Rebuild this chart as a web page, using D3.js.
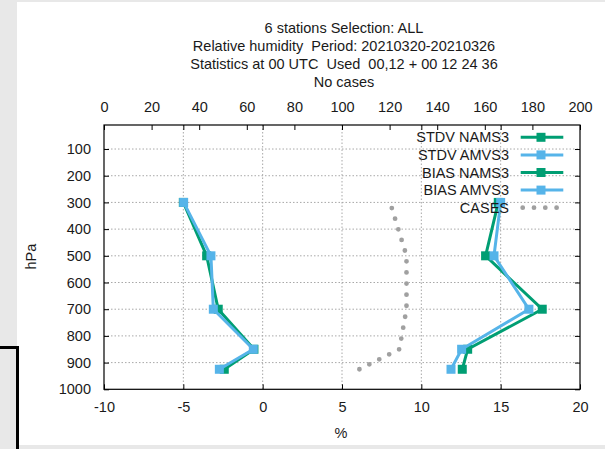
<!DOCTYPE html>
<html>
<head>
<meta charset="utf-8">
<script src="https://cdn.jsdelivr.net/npm/d3@7"></script>
<style>
  html, body { margin: 0; padding: 0; background: #e8e8e8; }
  svg { display: block; }
  text { font-family: "Liberation Sans", Arial, sans-serif; fill: #1a1a1a; white-space: pre; }
</style>
</head>
<body>
<svg id="chart" width="605" height="449"></svg>
<script>
// Pressure levels (hPa) of the profiles
const levels = [300, 500, 700, 850, 925];

// Standard deviation (%) per level
const stdvNams3 = [14.85, 14.05, 17.62, 12.92, 12.58];
const stdvAmvs3 = [15.0, 14.58, 16.78, 12.54, 11.87];

// Bias (%) per level
const biasNams3 = [-5.0, -3.53, -2.8, -0.55, -2.42];
const biasAmvs3 = [-4.98, -3.26, -3.11, -0.59, -2.73];

// Number of cases per level (upper axis)
const cases = [120.2, 127.1, 127.1, 124.1, 107.3];

// Axis ticks
const pressureTicks = [100, 200, 300, 400, 500, 600, 700, 800, 900, 1000];
const percentTicks = [-10, -5, 0, 5, 10, 15, 20];
const casesTicks = [0, 20, 40, 60, 80, 100, 120, 140, 160, 180, 200];

const titleLines = [
  "6 stations Selection: ALL",
  "Relative humidity  Period: 20210320-20210326",
  "Statistics at 00 UTC  Used  00,12 + 00 12 24 36",
  "No cases"
];

const GREEN = "#009e73";
const BLUE = "#56b4e9";
const GREY = "#a0a0a0";

const svg = d3.select("#chart");

// Page frame: white sheet and the dark bracket in the lower left
svg.append("rect").attr("x", 17).attr("y", 2).attr("width", 588).attr("height", 443).attr("fill", "#ffffff");
svg.append("rect").attr("x", 0).attr("y", 346).attr("width", 19).attr("height", 3).attr("fill", "#000");
svg.append("rect").attr("x", 16).attr("y", 346).attr("width", 3).attr("height", 103).attr("fill", "#000");

const plotLeft = 104, plotRight = 580, plotTop = 125, plotBottom = 389.3;

const x = d3.scaleLinear().domain([-10, 20]).range([plotLeft, plotRight]);
const x2 = d3.scaleLinear().domain([0, 200]).range([plotLeft, plotRight]);
const y = d3.scaleLinear().domain([1000, 10]).range([plotBottom, plotTop]);

// Grid
const grid = svg.append("g").attr("stroke", "#a8a8a8").attr("stroke-width", 1).attr("stroke-dasharray", "1.5,2");
pressureTicks.filter(p => p < 1000).forEach(p => {
  grid.append("line").attr("x1", plotLeft).attr("x2", plotRight).attr("y1", y(p)).attr("y2", y(p));
});
percentTicks.filter(v => v > -10 && v < 20).forEach(v => {
  grid.append("line").attr("x1", x(v)).attr("x2", x(v)).attr("y1", plotTop).attr("y2", plotBottom);
});

// Axes
const fontSize = "14.5px";
const plain = d => String(d);
function styleAxis(g) {
  g.select(".domain").remove();
  g.selectAll(".tick line").attr("stroke", "#000").attr("stroke-width", 1);
  g.selectAll(".tick text").style("font-size", fontSize).attr("fill", "#1a1a1a");
}

svg.append("g").attr("transform", `translate(${plotLeft},0)`)
  .call(d3.axisLeft(y).tickValues(pressureTicks).tickSize(-5).tickPadding(13).tickFormat(plain))
  .call(styleAxis);
svg.append("g").attr("transform", `translate(${plotRight},0)`)
  .call(d3.axisRight(y).tickValues(pressureTicks).tickSize(-5).tickFormat(""))
  .call(styleAxis);
svg.append("g").attr("transform", `translate(0,${plotBottom})`)
  .call(d3.axisBottom(x).tickValues(percentTicks).tickSize(-5).tickPadding(12).tickFormat(plain))
  .call(styleAxis);
svg.append("g").attr("transform", `translate(0,${plotTop})`)
  .call(d3.axisTop(x).tickValues(percentTicks).tickSize(-5).tickFormat(""))
  .call(styleAxis);
svg.append("g").attr("transform", `translate(0,${plotTop})`)
  .call(d3.axisTop(x2).tickValues(casesTicks).tickSize(-5).tickPadding(13).tickFormat(plain))
  .call(styleAxis);

// Plot border
svg.append("rect").attr("x", plotLeft).attr("y", plotTop)
  .attr("width", plotRight - plotLeft).attr("height", plotBottom - plotTop)
  .attr("fill", "none").attr("stroke", "#000").attr("stroke-width", 1.2);

// Cases profile as a dotted line
const casesLine = d3.line().x(d => x2(d[0])).y(d => y(d[1]));
svg.append("path")
  .datum(cases.map((c, i) => [c, levels[i]]))
  .attr("d", casesLine)
  .attr("fill", "none").attr("stroke", GREY).attr("stroke-width", 4.8)
  .attr("stroke-linecap", "round").attr("stroke-dasharray", "0,11.1").attr("stroke-dashoffset", 5.2);

// Profiles with square markers
const line = d3.line().x(d => x(d[0])).y(d => y(d[1]));
function profile(values, color) {
  const pts = values.map((v, i) => [v, levels[i]]);
  svg.append("path").datum(pts).attr("d", line)
    .attr("fill", "none").attr("stroke", color).attr("stroke-width", 3).attr("stroke-linejoin", "miter");
  svg.append("g").selectAll("rect").data(pts).join("rect")
    .attr("x", d => x(d[0]) - 4.5).attr("y", d => y(d[1]) - 4.5)
    .attr("width", 9).attr("height", 9).attr("fill", color);
}
profile(stdvNams3, GREEN);
profile(stdvAmvs3, BLUE);
profile(biasNams3, GREEN);
profile(biasAmvs3, BLUE);

// Legend
const legendItems = [
  { label: "STDV NAMS3", color: GREEN, type: "line" },
  { label: "STDV AMVS3", color: BLUE, type: "line" },
  { label: "BIAS NAMS3", color: GREEN, type: "line" },
  { label: "BIAS AMVS3", color: BLUE, type: "line" },
  { label: "CASES", color: GREY, type: "dots" }
];
const legend = svg.append("g");
legendItems.forEach((item, i) => {
  const ly = 137.3 + i * 17.6;
  legend.append("text").attr("x", 509).attr("y", ly).attr("dy", "0.35em")
    .attr("text-anchor", "end").style("font-size", fontSize).text(item.label);
  if (item.type === "line") {
    legend.append("line").attr("x1", 520.7).attr("x2", 563.3).attr("y1", ly).attr("y2", ly)
      .attr("stroke", item.color).attr("stroke-width", 3);
    legend.append("rect").attr("x", 541 - 4.5).attr("y", ly - 4.5).attr("width", 9).attr("height", 9)
      .attr("fill", item.color);
  } else {
    legend.append("line").attr("x1", 522.7).attr("x2", 560).attr("y1", ly).attr("y2", ly)
      .attr("stroke", item.color).attr("stroke-width", 4.8).attr("stroke-linecap", "round")
      .attr("stroke-dasharray", "0,11.3");
  }
});

// Title
svg.append("g").selectAll("text").data(titleLines).join("text")
  .attr("x", 344).attr("y", (d, i) => 28.3 + i * 17.8).attr("dy", "0.35em")
  .attr("text-anchor", "middle").style("font-size", fontSize).text(d => d);

// Axis titles
svg.append("text").attr("x", 341).attr("y", 432.7).attr("dy", "0.35em")
  .attr("text-anchor", "middle").style("font-size", fontSize).text("%");
svg.append("text").attr("transform", "translate(31,256.7) rotate(-90)").attr("dy", "0.35em")
  .attr("text-anchor", "middle").style("font-size", fontSize).text("hPa");
</script>
</body>
</html>
